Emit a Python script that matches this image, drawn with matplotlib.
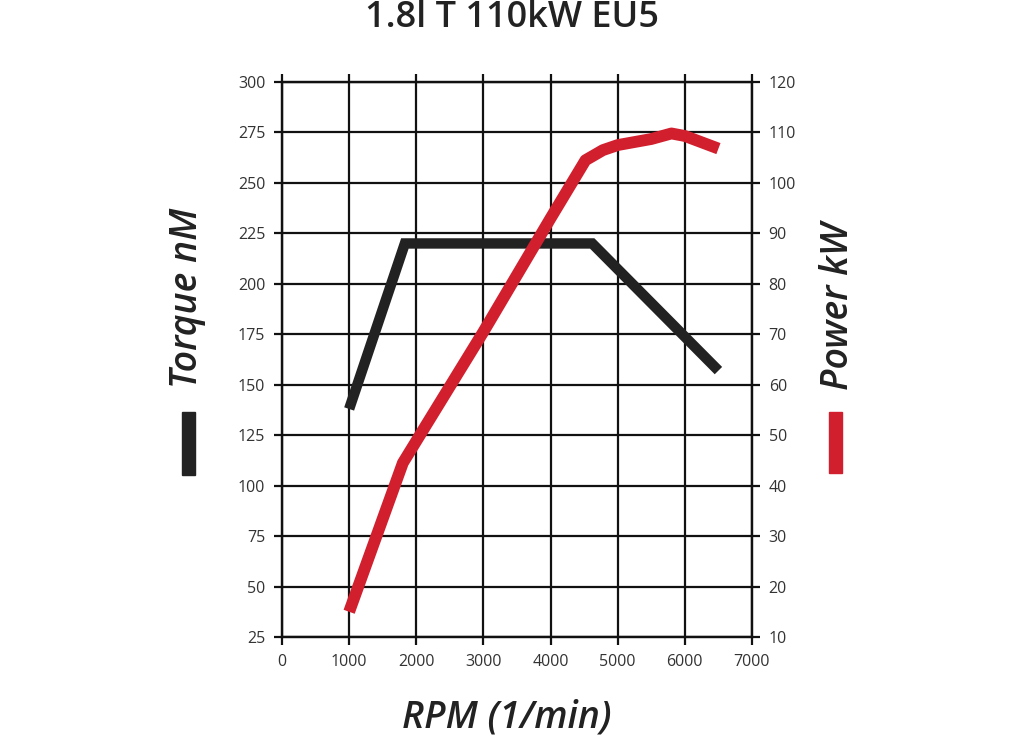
import matplotlib
matplotlib.use("Agg")
import matplotlib.pyplot as plt
from matplotlib.patches import Rectangle

# values
torque_rpm = [1000, 1830, 4620, 6500]
torque_nm = [138, 220, 220, 157]

power_rpm = [1000, 1800, 3000, 4000, 4520, 4780, 5000, 5500, 5800, 6000, 6500]
power_kw = [15, 44.5, 70.5, 93, 104.5, 106.5, 107.5, 108.7, 109.8, 109.3, 106.8]

rpm_ticks = list(range(0, 7001, 1000))
torque_ticks = list(range(25, 301, 25))
power_ticks = list(range(10, 121, 10))

TEXT = "#222222"
RED = "#d11f2e"
BLACK = "#222222"

plt.rcParams["font.family"] = ["Open Sans", "DejaVu Sans"]

fig = plt.figure(figsize=(10.24, 7.40), dpi=100)
ax = fig.add_axes([282 / 1024, 1 - 637 / 740, 470 / 1024, 555 / 740])
ax2 = ax.twinx()

ax.set_xlim(0, 7000)
ax.set_ylim(25, 300)
ax2.set_ylim(10, 120)
ax.set_xticks(rpm_ticks)
ax.set_yticks(torque_ticks)
ax2.set_yticks(power_ticks)

ax.grid(True, color="#111111", linewidth=1.6)
for a in (ax, ax2):
    for s in a.spines.values():
        s.set_linewidth(1.6)
        s.set_color("#111111")
ax.tick_params(axis="both", direction="out", length=6, width=1.6, color="#111111",
               labelsize=11.5, labelcolor="#333333", top=True, pad=6)
ax2.tick_params(axis="y", direction="out", length=6, width=1.6, color="#111111",
                labelsize=11.5, labelcolor="#333333", pad=6)

ax.plot(torque_rpm, torque_nm, color=BLACK, linewidth=7.5,
        solid_capstyle="butt", solid_joinstyle="miter", zorder=3)
ax2.plot(power_rpm, power_kw, color=RED, linewidth=8.5,
         solid_capstyle="butt", solid_joinstyle="round", zorder=3)

fig.text(0.5, 1 - 18 / 740, "1.8l T 110kW EU5", ha="center", va="center",
         fontsize=26, fontweight="semibold", color=TEXT)
fig.text(507 / 1024, 1 - 717 / 740, "RPM (1/min)", ha="center", va="center",
         fontsize=27, fontstyle="italic", fontweight="semibold", color=TEXT)
fig.text(187 / 1024, 1 - 298 / 740, "Torque nM", ha="center", va="center", rotation=90,
         fontsize=27, fontstyle="italic", fontweight="semibold", color=TEXT)
fig.text(838 / 1024, 1 - 306 / 740, "Power kW", ha="center", va="center", rotation=90,
         fontsize=27, fontstyle="italic", fontweight="semibold", color=TEXT)

# legend bars under the axis titles
fig.patches.append(Rectangle((182 / 1024, 1 - 475 / 740), 13 / 1024, 63 / 740,
                             transform=fig.transFigure, color=BLACK))
fig.patches.append(Rectangle((829 / 1024, 1 - 473 / 740), 13 / 1024, 61 / 740,
                             transform=fig.transFigure, color=RED))

fig.savefig("out.png", dpi=100)
